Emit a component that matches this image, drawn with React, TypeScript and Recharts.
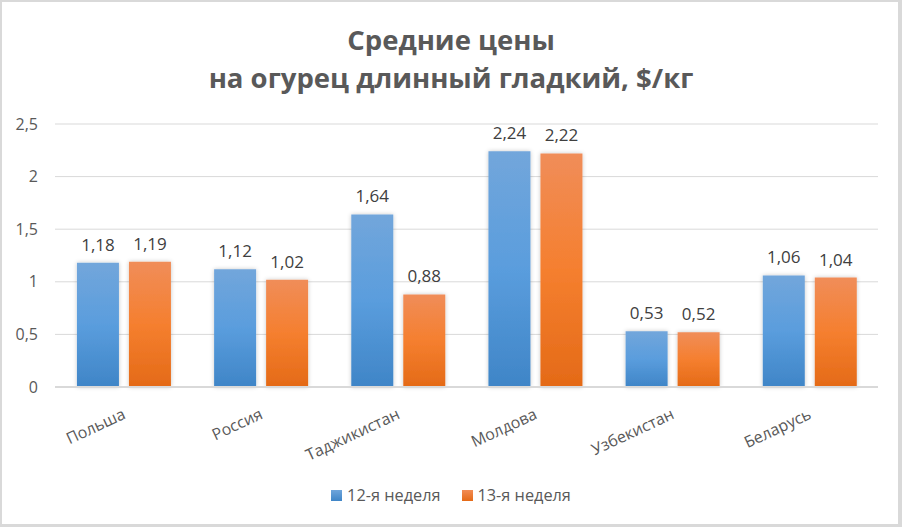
import React from "react";
import { BarChart, Bar, XAxis, YAxis, CartesianGrid, LabelList, Legend } from "recharts";

const categories = ["Польша", "Россия", "Таджикистан", "Молдова", "Узбекистан", "Беларусь"];
const week12 = [1.18, 1.12, 1.64, 2.24, 0.53, 1.06];
const week13 = [1.19, 1.02, 0.88, 2.22, 0.52, 1.04];
const seriesNames = ["12-я неделя", "13-я неделя"];
const yTicks = [0, 0.5, 1, 1.5, 2, 2.5];
const titleLines = ["Средние цены", "на огурец длинный гладкий, $/кг"];

const data = categories.map((c, i) => ({ name: c, w12: week12[i], w13: week13[i] }));

const FONT = "'Open Sans', 'Noto Sans', sans-serif";
const fmt = (v: number) => String(v).replace(".", ",");

const XTick = (props: any) => {
  const { x, y, payload } = props;
  return (
    <g transform={`translate(${x + 3},${y + 23})`}>
      <text x={0} y={0} textAnchor="end" transform="rotate(-25)" fill="#595959" fontSize={16} fontFamily={FONT}>
        {payload.value}
      </text>
    </g>
  );
};

const LegendContent = () => {
  return (
    <div style={{ display: "flex", justifyContent: "center", alignItems: "center", fontFamily: FONT, fontSize: 16.3, color: "#595959", height: 22 }}>
      {seriesNames.map((n, i) => (
        <div key={n} style={{ display: "flex", alignItems: "center", marginLeft: i ? 21 : 0 }}>
          <span style={{ display: "inline-block", width: 11, height: 11, background: `linear-gradient(${i ? "#f28c55,#e56a17" : "#6fa5db,#3f85c7"})`, marginRight: 5 }} />
          <span>{n}</span>
        </div>
      ))}
    </div>
  );
};

export default function App() {
  return (
    <div style={{ position: "absolute", left: 0, top: 0, width: 902, height: 527, background: "#fff", boxSizing: "border-box", borderStyle: "solid", borderColor: "#d9d9d9", borderWidth: "2px 4px 3px 2px" }}>
      <div style={{ position: "absolute", left: -2, top: 19, width: 902, textAlign: "center", fontFamily: FONT, fontWeight: 700, fontSize: 27.5, lineHeight: "38px", color: "#595959" }}>
        {titleLines.map((t) => (
          <div key={t}>{t}</div>
        ))}
      </div>
      <div style={{ position: "absolute", left: -2, top: -2 }}>
        <BarChart width={902} height={527} data={data} margin={{ top: 102, right: 24, left: 0, bottom: 0 }} barCategoryGap="16%" barGap={10}>
          <defs>
            <linearGradient id="gBlue" x1="0" y1="0" x2="0" y2="1">
              <stop offset="0%" stopColor="#72a6db" />
              <stop offset="50%" stopColor="#5a9ddd" />
              <stop offset="100%" stopColor="#3f85c7" />
            </linearGradient>
            <linearGradient id="gOrange" x1="0" y1="0" x2="0" y2="1">
              <stop offset="0%" stopColor="#f08d59" />
              <stop offset="50%" stopColor="#f57f2f" />
              <stop offset="100%" stopColor="#e46a17" />
            </linearGradient>
            <filter id="shadow" x="-20%" y="-10%" width="140%" height="120%">
              <feDropShadow dx="0" dy="0" stdDeviation="2" floodColor="#000" floodOpacity="0.22" />
            </filter>
          </defs>
          <CartesianGrid vertical={false} stroke="#d9d9d9" strokeWidth={1} />
          <XAxis dataKey="name" height={140} tickLine={false} axisLine={{ stroke: "#d9d9d9", strokeWidth: 2 }} tick={<XTick />} interval={0} />
          <YAxis domain={[0, 2.5]} ticks={yTicks} width={55} axisLine={false} tickLine={false} tickMargin={11} tickFormatter={fmt} tick={{ fill: "#595959", fontSize: 16, fontFamily: FONT }} />
          <Legend verticalAlign="top" wrapperStyle={{ top: 484, left: 0, width: 902 }} content={<LegendContent />} />
          <Bar dataKey="w12" name={seriesNames[0]} fill="url(#gBlue)" filter="url(#shadow)" isAnimationActive={false}>
            <LabelList dataKey="w12" position="top" offset={12} formatter={(v: any) => fmt(v)} fill="#404040" fontSize={17} fontFamily={FONT} />
          </Bar>
          <Bar dataKey="w13" name={seriesNames[1]} fill="url(#gOrange)" filter="url(#shadow)" isAnimationActive={false}>
            <LabelList dataKey="w13" position="top" offset={12} formatter={(v: any) => fmt(v)} fill="#404040" fontSize={17} fontFamily={FONT} />
          </Bar>
        </BarChart>
      </div>
    </div>
  );
}
